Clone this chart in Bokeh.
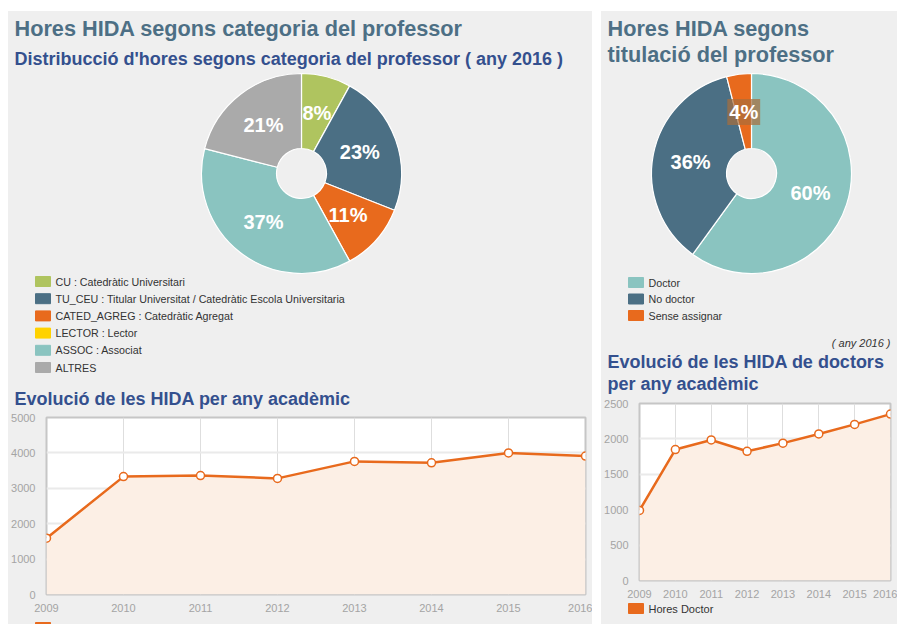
import math
from bokeh.plotting import figure
from bokeh.layouts import row, column
from bokeh.models import Range1d, FixedTicker, Spacer, ColumnDataSource
from bokeh.core.properties import value
from bokeh.embed import file_html
from bokeh.resources import INLINE

# ---------------- data ----------------
cat_labels = ["CU : Catedràtic Universitari",
              "TU_CEU : Titular Universitat / Catedràtic Escola Universitaria",
              "CATED_AGREG : Catedràtic Agregat",
              "LECTOR : Lector",
              "ASSOC : Associat",
              "ALTRES"]
cat_pct = [8, 23, 11, 0, 37, 21]
cat_colors = ["#afc45f", "#4b6f84", "#e86a1d", "#ffd200", "#8ac4c0", "#aaaaaa"]

tit_labels = ["Doctor", "No doctor", "Sense assignar"]
tit_pct = [60, 36, 4]
tit_colors = ["#8ac4c0", "#4b6f84", "#e86a1d"]

years = [2009, 2010, 2011, 2012, 2013, 2014, 2015, 2016]
hores_hida = [1590, 3330, 3360, 3280, 3760, 3720, 4000, 3910]
hores_doctor = [990, 1850, 1985, 1825, 1940, 2070, 2205, 2350]
series_hida = ["Hores HIDA"]
series_doctor = ["Hores Doctor"]

# ---------------- style ----------------
FONT = value("Liberation Sans")
PANEL = "#efefef"
TITLE_C = "#4d6f85"
SUB_C = "#34508e"
ORANGE = "#e86a1d"
TEXT_C = "#333333"


def base_fig(w, h):
    p = figure(width=w, height=h, x_range=Range1d(0, w), y_range=Range1d(0, h),
               output_backend="svg", toolbar_location=None,
               x_axis_type=None, y_axis_type=None, min_border=0,
               frame_align=False)
    p.background_fill_color = PANEL
    p.border_fill_color = PANEL
    p.outline_line_color = None
    p.grid.visible = False
    return p


def add_text(p, x, y, t, size, color, style="bold", align="left"):
    p.text(x=[x], y=[y], text=[t], text_font=FONT, text_font_size=size,
           text_font_style=style, text_color=color, text_align=align,
           text_baseline="middle")


def add_pie(p, cx, cy, pcts, colors):
    total = float(sum(pcts))
    cum = 0.0
    st, en, cl, lx, ly, lt, small = [], [], [], [], [], [], []
    for v, c in zip(pcts, colors):
        a0 = math.pi / 2 - 2 * math.pi * cum / total
        cum += v
        a1 = math.pi / 2 - 2 * math.pi * cum / total
        if v <= 0:
            continue
        st.append(a0); en.append(a1); cl.append(c)
        mid = (a0 + a1) / 2
        lx.append(cx + 62 * math.cos(mid))
        ly.append(cy + 62 * math.sin(mid))
        lt.append("%d%%" % v)
        small.append(v < 5)
    src = ColumnDataSource(dict(start=st, end=en, color=cl))
    p.annular_wedge(x=cx, y=cy, inner_radius=25, outer_radius=100,
                    start_angle="start", end_angle="end", direction="clock",
                    fill_color="color", line_color="white", line_width=1.2,
                    source=src)
    big = ColumnDataSource(dict(x=[a for a, s in zip(lx, small) if not s],
                                y=[b for b, s in zip(ly, small) if not s],
                                t=[c for c, s in zip(lt, small) if not s]))
    p.text(x="x", y="y", text="t", source=big, text_font=FONT,
           text_font_size="20px", text_font_style="bold", text_color="white",
           text_align="center", text_baseline="middle")
    sm = ColumnDataSource(dict(x=[a for a, s in zip(lx, small) if s],
                               y=[b for b, s in zip(ly, small) if s],
                               t=[c for c, s in zip(lt, small) if s]))
    p.text(x="x", y="y", text="t", source=sm, text_font=FONT,
           text_font_size="20px", text_font_style="bold", text_color="white",
           text_align="center", text_baseline="middle",
           background_fill_color="#a86e3c", background_fill_alpha=0.7,
           padding=2)


def add_legend(p, x0, ytop, labels, colors, step, size="10.7px"):
    ys = [ytop - i * step for i in range(len(labels))]
    p.rect(x=[x0 + 7.5] * len(labels), y=ys, width=15, height=10,
           fill_color=colors, line_color=colors)
    p.text(x=[x0 + 20] * len(labels), y=ys, text=labels, text_font=FONT,
           text_font_size=size, text_color=TEXT_C, text_align="left",
           text_baseline="middle")


def line_chart(w, h, vals, ymax, ystep, mb_left, mb_right, mb_top, mb_bottom):
    p = figure(width=w, height=h, x_range=Range1d(years[0], years[-1]),
               y_range=Range1d(0, ymax), output_backend="svg",
               toolbar_location=None, min_border_left=mb_left,
               min_border_right=mb_right, min_border_top=mb_top,
               min_border_bottom=mb_bottom, frame_align=False)
    p.background_fill_color = "white"
    p.border_fill_color = PANEL
    p.outline_line_color = "#c6c6c6"
    p.outline_line_width = 2
    p.varea(x=years, y1=[0] * len(years), y2=vals, fill_color="#fcefe5")
    p.line(years, vals, line_color=ORANGE, line_width=2.5)
    p.scatter(years, vals, size=8, fill_color="white", line_color=ORANGE,
              line_width=1.5)
    p.xaxis.ticker = FixedTicker(ticks=years)
    p.yaxis.ticker = FixedTicker(ticks=list(range(0, ymax + 1, ystep)))
    for ax in (p.xaxis, p.yaxis):
        ax.axis_line_color = None
        ax.major_tick_line_color = None
        ax.minor_tick_line_color = None
        ax.major_label_text_color = "#a4a4a4"
        ax.major_label_text_font = "Liberation Sans"
        ax.major_label_text_font_size = "11px"
    p.xaxis.major_label_standoff = 3
    p.yaxis.major_label_standoff = 5
    p.xgrid.grid_line_color = "#dedede"
    p.xgrid.grid_line_width = 1
    p.ygrid.grid_line_color = "#eaeaea"
    p.ygrid.grid_line_width = 2
    return p


# ---------------- left column ----------------
W1, H1 = 584, 399
f1 = base_fig(W1, H1)
add_text(f1, 6, 382, "Hores HIDA segons categoria del professor", "21.7px", TITLE_C)
add_text(f1, 6, 352, "Distribucció d'hores segons categoria del professor ( any 2016 )",
         "18px", SUB_C)
add_pie(f1, 293, 237, cat_pct, cat_colors)
add_legend(f1, 27, 129, cat_labels, cat_colors, 17.2)
add_text(f1, 6, 12, "Evolució de les HIDA per any acadèmic", "18px", SUB_C)

f2 = line_chart(W1, 204, hores_hida, 5000, 1000, 34, 7, 7, 20)

g2 = base_fig(W1, 10)
add_legend(g2, 27, -1, series_hida, [ORANGE], 0, size="11px")

left = column(f1, f2, g2, spacing=0, styles={"background-color": PANEL})

# ---------------- right column ----------------
W2, H3 = 296, 387
f3 = base_fig(W2, H3)
add_text(f3, 6, 370, "Hores HIDA segons", "21.7px", TITLE_C)
add_text(f3, 6, 344, "titulació del professor", "21.7px", TITLE_C)
add_pie(f3, 150, 225, tit_pct, tit_colors)
add_legend(f3, 27, 116, tit_labels, tit_colors, 16.5)
add_text(f3, 289, 56, "( any 2016 )", "11px", TEXT_C, style="italic", align="right")
add_text(f3, 6, 37, "Evolució de les HIDA de doctors", "18px", SUB_C)
add_text(f3, 6, 15, "per any acadèmic", "18px", SUB_C)

f4 = line_chart(W2, 202, hores_doctor, 2500, 500, 36, 7, 5, 20)

g4 = base_fig(W2, 24)
add_legend(g4, 27, 16, series_doctor, [ORANGE], 0, size="11px")

right = column(f3, f4, g4, spacing=0, styles={"background-color": PANEL})

layout = column(Spacer(width=897, height=11),
                row(Spacer(width=8, height=613), left, Spacer(width=9, height=613), right,
                    spacing=0),
                spacing=0)

open("out.html", "w").write(file_html(layout, INLINE))
